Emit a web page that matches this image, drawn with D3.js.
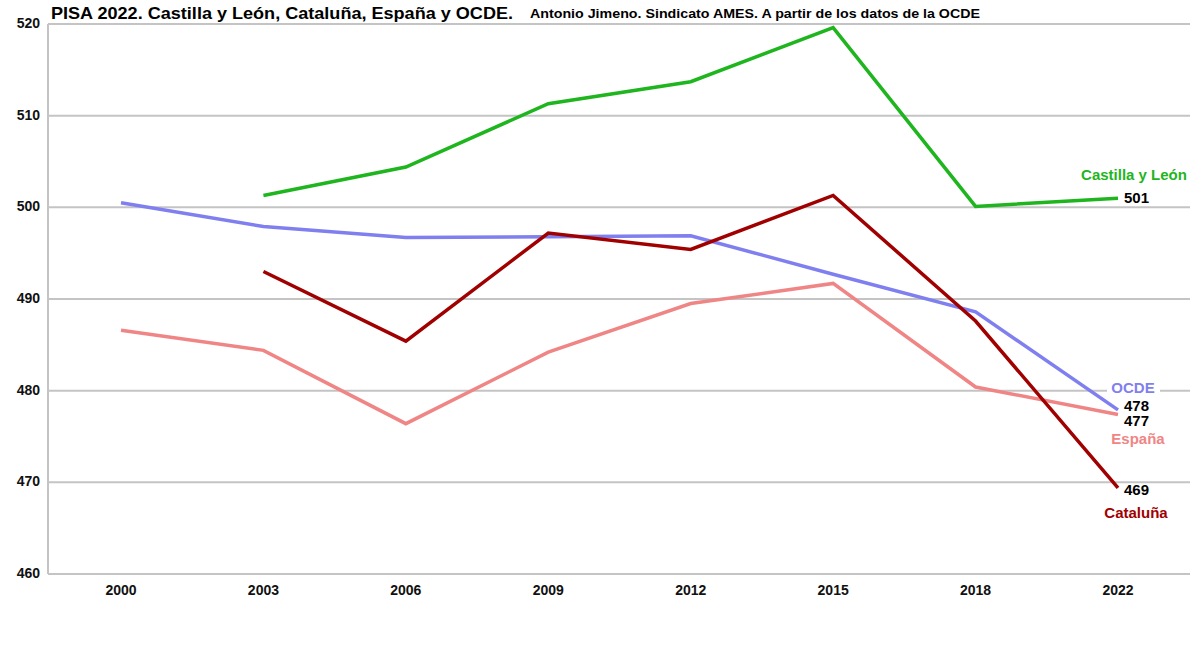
<!DOCTYPE html>
<html>
<head>
<meta charset="utf-8">
<script src="https://cdn.jsdelivr.net/npm/d3@7"></script>
<style>
  body { margin: 0; background: #fff; }
  text { font-family: "Liberation Sans", Arial, sans-serif; font-weight: bold; }
</style>
</head>
<body>
<div id="chart"></div>
<script>
// data
var years = ["2000", "2003", "2006", "2009", "2012", "2015", "2018", "2022"];
var yTicks = [460, 470, 480, 490, 500, 510, 520];

var castillaLeon = [null, 501.3, 504.4, 511.3, 513.7, 519.6, 500.1, 501.0];
var ocde = [500.5, 497.9, 496.7, 496.8, 496.9, 492.7, 488.6, 477.9];
var cataluna = [null, 493.0, 485.4, 497.2, 495.4, 501.3, 487.6, 469.4];
var espana = [486.6, 484.4, 476.4, 484.2, 489.5, 491.7, 480.4, 477.4];

var endLabels = ["501", "478", "477", "469"];

var width = 1200, height = 647;

var svg = d3.select("#chart")
  .append("svg")
    .attr("width", width)
    .attr("height", height);

// plot box (named so they don't clash with window.top)
var plotLeft = 48, plotRight = 1190, plotTop = 24, plotBottom = 574;

var x = d3.scalePoint()
  .domain(years)
  .range([121, 1118]);

var y = d3.scaleLinear()
  .domain([460, 520])
  .range([plotBottom, plotTop]);

// gridlines
svg.append("g")
  .selectAll("line")
  .data(yTicks)
  .enter()
  .append("line")
    .attr("x1", plotLeft)
    .attr("x2", plotRight)
    .attr("y1", function(d) { return y(d); })
    .attr("y2", function(d) { return y(d); })
    .style("stroke", "#c4c4c4")
    .style("stroke-width", 2);

// left axis line
svg.append("line")
  .attr("x1", plotLeft).attr("x2", plotLeft)
  .attr("y1", plotTop).attr("y2", plotBottom)
  .style("stroke", "#c4c4c4")
  .style("stroke-width", 2);

// y tick labels
svg.append("g")
  .selectAll("text")
  .data(yTicks)
  .enter()
  .append("text")
    .attr("x", 40)
    .attr("y", function(d) { return y(d) + 4; })
    .attr("text-anchor", "end")
    .attr("font-size", "14px")
    .attr("fill", "#111")
    .text(function(d) { return d; });

// x tick labels
svg.append("g")
  .selectAll("text")
  .data(years)
  .enter()
  .append("text")
    .attr("x", function(d) { return x(d); })
    .attr("y", 595)
    .attr("text-anchor", "middle")
    .attr("font-size", "14px")
    .attr("fill", "#111")
    .text(function(d) { return d; });

var line = d3.line()
  .defined(function(d) { return d != null; })
  .x(function(d, i) { return x(years[i]); })
  .y(function(d) { return y(d); });

var series = [
  { name: "OCDE", values: ocde, color: "#7f7ff0", width: 3.5 },
  { name: "España", values: espana, color: "#f08585", width: 3.5 },
  { name: "Cataluña", values: cataluna, color: "#a00000", width: 3.5 },
  { name: "Castilla y León", values: castillaLeon, color: "#1eb51e", width: 3.5 }
];

svg.append("g")
  .selectAll("path")
  .data(series)
  .enter()
  .append("path")
    .attr("d", function(d) { return line(d.values); })
    .style("fill", "none")
    .style("stroke", function(d) { return d.color; })
    .style("stroke-width", function(d) { return d.width; })
    .style("stroke-linejoin", "miter");

// end-of-line value labels
var last = years.length - 1;
var valueLabels = [
  { text: endLabels[0], v: castillaLeon[last], dy: 5 },
  { text: endLabels[1], v: ocde[last], dy: 1 },
  { text: endLabels[2], v: espana[last], dy: 11 },
  { text: endLabels[3], v: cataluna[last], dy: 7 }
];

svg.append("g")
  .selectAll("text")
  .data(valueLabels)
  .enter()
  .append("text")
    .attr("x", x(years[last]) + 6)
    .attr("y", function(d) { return y(d.v) + d.dy; })
    .attr("font-size", "15px")
    .attr("fill", "#000")
    .text(function(d) { return d.text; });

// series name labels
var nameLabels = [
  { text: "Castilla y León", color: "#1eb51e", cx: 1134, cy: 180 },
  { text: "OCDE", color: "#7f7ff0", cx: 1133, cy: 393 },
  { text: "España", color: "#f08585", cx: 1138, cy: 444 },
  { text: "Cataluña", color: "#a00000", cx: 1136, cy: 518 }
];

var names = svg.append("g")
  .selectAll("g")
  .data(nameLabels)
  .enter()
  .append("g");

names.filter(function(d) { return d.text == "OCDE"; })
  .append("rect")
    .attr("x", function(d) { return d.cx - 26; })
    .attr("y", function(d) { return d.cy - 14; })
    .attr("width", 53)
    .attr("height", 18)
    .style("fill", "#fff");

names.append("text")
  .attr("x", function(d) { return d.cx; })
  .attr("y", function(d) { return d.cy; })
  .attr("text-anchor", "middle")
  .attr("font-size", "15px")
  .attr("fill", function(d) { return d.color; })
  .text(function(d) { return d.text; });

// title
svg.append("text")
  .attr("x", 51)
  .attr("y", 19)
  .attr("font-size", "17px")
  .attr("fill", "#000")
  .attr("textLength", 462)
  .attr("lengthAdjust", "spacingAndGlyphs")
  .text("PISA 2022. Castilla y León, Cataluña, España y OCDE.");

// subtitle
svg.append("text")
  .attr("x", 530)
  .attr("y", 18)
  .attr("font-size", "13px")
  .attr("fill", "#000")
  .attr("textLength", 450)
  .attr("lengthAdjust", "spacingAndGlyphs")
  .text("Antonio Jimeno. Sindicato AMES. A partir de los datos de la OCDE");
</script>
</body>
</html>
